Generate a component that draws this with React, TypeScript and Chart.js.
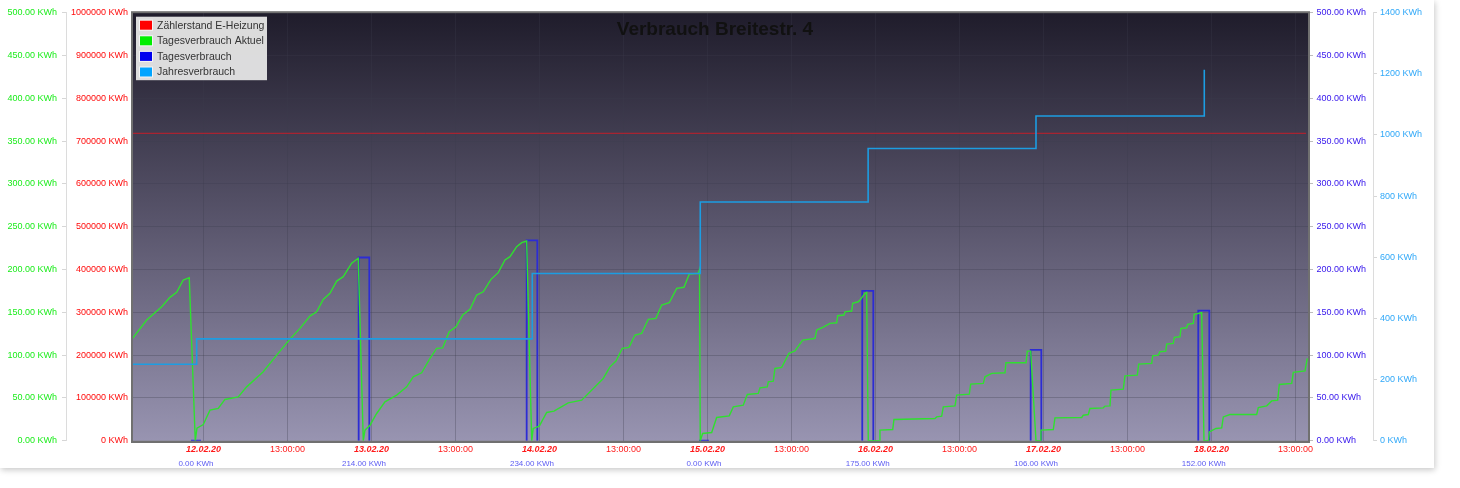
import React, { useEffect, useRef } from 'react';
import { Chart, registerables } from 'chart.js';

Chart.register(...registerables);

// ---------- data ----------
const chartTitle = 'Verbrauch Breitestr. 4';
const seriesNames = ['Zählerstand E-Heizung', 'Tagesverbrauch Aktuel', 'Tagesverbrauch', 'Jahresverbrauch'];
const dayLabels = ['12.02.20', '13.02.20', '14.02.20', '15.02.20', '16.02.20', '17.02.20', '18.02.20'];
const midLabel = '13:00:00';
// x values are hours relative to the 12.02.20 tick
const xMin = -10.21;
const xMax = 157.93;

const dailyKwh = [0, 214, 234, 0, 175, 106, 152];
const barStartHours = [-1.79, 22.17, 46.17, 70.79, 94.11, 118.17, 142.11];
const barEndHours = [-0.36, 23.69, 47.69, 72.21, 95.69, 119.69, 143.69];

const greenHours = [
  -10.21, -8.11, -5.97, -4.79, -3.83, -2.89, -2.03, -1.17, -0.93, -0.03,
  0.93, 2.11, 3.07, 4.97, 6.17, 8.54, 10.46, 12.36, 13.79, 15.21,
  16.17, 17.11, 18.07, 19.03, 19.97, 21.17, 22.11, 22.83, 23.07, 23.79,
  24.74, 25.93, 27.6, 29.03, 29.97, 31.17, 32.36, 33.31, 34.17, 35.11,
  36.07, 37.03, 38.07, 39.03, 39.97, 41.07, 42.11, 43.07, 43.79, 44.74,
  45.46, 46.17, 46.89, 47.11, 47.97, 49.03, 50.07, 52.11, 54.03, 57.11,
  58.07, 58.93, 59.83, 60.79, 61.64, 62.6, 63.54, 64.64, 65.46, 66.54,
  67.6, 68.64, 69.4, 70.69, 70.86, 70.97, 71.31, 72.6, 73.31, 75.11,
  75.69, 77.11, 77.69, 79.26, 79.5, 80.54, 80.69, 81.4, 81.64, 82.6,
  83.64, 84.5, 85.6, 87.36, 87.6, 88.54, 89.5, 90.46, 90.6, 91.5,
  91.64, 92.6, 92.74, 93.54, 93.79, 94.5, 94.74, 94.97, 96.54, 96.64,
  98.46, 98.64, 104.5, 104.74, 105.46, 105.69, 107.36, 107.6, 109.4, 109.6,
  111.4, 111.64, 112.6, 114.5, 114.64, 117.5, 117.69, 118.17, 118.93, 119.6,
  119.64, 121.4, 121.64, 125.46, 125.69, 126.4, 126.64, 128.54, 128.79, 129.5,
  129.64, 131.4, 131.64, 133.4, 133.6, 135.46, 135.6, 136.4, 136.64, 137.46,
  137.6, 138.54, 138.69, 139.5, 139.64, 140.46, 140.6, 141.4, 141.54, 142.6,
  142.93, 143.57, 143.69, 144.64, 145.46, 145.69, 146.64, 150.46, 150.69, 151.89,
  152.6, 153.46, 153.69, 155.46, 155.69, 157.36, 157.69,
];
const greenValues = [
  118.7, 140.9, 156.5, 167.5, 173.3, 187.7, 190.4, 0, 14.6, 18.9,
  35.7, 37.7, 48.2, 51.2, 62.9, 80.5, 100, 118.7, 131.2, 145.6,
  150.6, 165.1, 172.2, 186.5, 191.6, 207.3, 213.1, 0, 12.3, 18.1,
  31.8, 45.4, 53.2, 62.9, 74.6, 79.3, 96.1, 107.8, 108.5, 127.3,
  133.1, 146.8, 153.5, 170.2, 174, 188.5, 196.3, 211.1, 215, 226.7,
  231.3, 233.3, 0, 14.3, 17, 33, 34.5, 44.2, 47.4, 72.7,
  86.3, 93, 107.8, 109, 123.4, 125.4, 141.8, 142.9, 158.5, 161.2,
  178, 179.2, 194.7, 195.6, 200.2, 0, 8.4, 9.6, 27.1, 29,
  39.5, 41.5, 54, 55.2, 61.8, 62.9, 68.8, 69.6, 84.4, 85.6,
  102, 105, 117.5, 119.5, 129.2, 132.7, 137.1, 137.8, 146, 146.8,
  150.6, 151.5, 160.5, 162.3, 164.3, 172.2, 173.3, 0, 0, 12.3,
  13.1, 24.8, 26, 27.8, 28.7, 39.5, 40.7, 53.2, 54.4, 66.1,
  66.9, 74.6, 78.6, 79.3, 91, 91, 104.7, 104.7, 0, 0,
  12.3, 13.1, 26.7, 27.1, 29.8, 30.6, 37.7, 38.4, 40.4, 40.7,
  59.1, 60.2, 75.8, 76.6, 89.5, 90.3, 99.2, 100, 103.9, 104.7,
  112.9, 113.7, 120.7, 121.4, 131.2, 131.9, 135.9, 137.1, 147.6, 149.5,
  0, 0, 10.3, 14.3, 15, 27.8, 30.6, 30.6, 38.8, 40.7,
  46.5, 47.4, 65.7, 66.9, 79.8, 81.6, 96.1,
];

const yearHours = [-10.21, -0.97, 46.97, 70.97, 94.95, 118.93, 142.97];
const yearValues = [250, 333, 547, 781, 956, 1062, 1213];

const meterHours = [-10.21, 157.5];
const meterValues = [718200, 718200];

const kwhTicks = [0, 50, 100, 150, 200, 250, 300, 350, 400, 450, 500];
const meterTicks = [0, 100000, 200000, 300000, 400000, 500000, 600000, 700000, 800000, 900000, 1000000];
const yearTicks = [0, 200, 400, 600, 800, 1000, 1200, 1400];

// ---------- styles ----------
const FONT = '"Liberation Sans", Arial, Helvetica, sans-serif';
const GRID = 'rgba(60,60,75,0.3)';
const COL_GREEN = '#2fe02f';
const COL_BLUE = '#2c2cd4';
const COL_LIGHT = '#1c9de2';
const legendSwatches = ['#ff0000', '#00ee00', '#0000ee', '#00a4ff'];

const xTickHours: number[] = [];
dayLabels.forEach((_, i) => {
  xTickHours.push(i * 24);
  xTickHours.push(i * 24 + 12);
});
const barCenters = barStartHours.map((s, i) => (s + barEndHours[i]) / 2);

const decorPlugin = {
  id: 'decor',
  beforeDraw(chart: any) {
    const { ctx, chartArea: a } = chart;
    const g = ctx.createLinearGradient(0, a.top, 0, a.bottom);
    g.addColorStop(0, '#1f1c2b');
    g.addColorStop(0.5, '#5a566d');
    g.addColorStop(1, '#9894b1');
    ctx.save();
    ctx.fillStyle = g;
    ctx.fillRect(a.left, a.top, a.right - a.left, a.bottom - a.top);
    ctx.restore();
  },
  afterDraw(chart: any) {
    const { ctx, chartArea: a } = chart;
    ctx.save();
    // plot border
    ctx.strokeStyle = '#707070';
    ctx.lineWidth = 2;
    ctx.strokeRect(a.left, a.top - 0.5, a.right - a.left, a.bottom - a.top + 1.8);
    // title
    ctx.fillStyle = '#111111';
    ctx.font = 'bold 19px ' + FONT;
    ctx.textAlign = 'center';
    ctx.textBaseline = 'alphabetic';
    ctx.fillText(chartTitle, a.left + (a.right - a.left) * 0.4953, a.top + 22.5);
    // legend
    const lx = a.left + 4;
    const ly = a.top + 4;
    ctx.fillStyle = 'rgba(226,226,226,0.97)';
    ctx.fillRect(lx, ly, 131, 63.5);
    ctx.font = '10.5px ' + FONT;
    ctx.textAlign = 'left';
    ctx.textBaseline = 'middle';
    seriesNames.forEach((name, i) => {
      const cy = ly + 8.5 + i * 15.6;
      ctx.fillStyle = '#f4f4f4';
      ctx.fillRect(lx + 3, cy - 5.5, 14, 11);
      ctx.fillStyle = legendSwatches[i];
      ctx.fillRect(lx + 4, cy - 4.5, 12, 9);
      ctx.fillStyle = '#333333';
      ctx.fillText(name, lx + 21, cy + 0.5);
    });
    ctx.restore();
  },
};

export default function App() {
  const ref = useRef<HTMLCanvasElement | null>(null);

  useEffect(() => {
    if (!ref.current) return;
    Chart.defaults.font.family = FONT;

    const barData: any[] = [];
    dailyKwh.forEach((v, i) => {
      barData.push({ x: barStartHours[i], y: 0 });
      barData.push({ x: barStartHours[i], y: v });
      barData.push({ x: barEndHours[i], y: v });
      barData.push({ x: barEndHours[i], y: 0 });
      barData.push({ x: barEndHours[i], y: null });
    });

    const chart = new Chart(ref.current, {
      type: 'line',
      data: {
        datasets: [
          {
            label: seriesNames[3],
            data: yearHours.map((x, i) => ({ x, y: yearValues[i] })),
            xAxisID: 'x',
            yAxisID: 'yLight',
            stepped: true,
            borderColor: COL_LIGHT,
            borderWidth: 1.6,
            pointRadius: 0,
            fill: false,
          },
          {
            label: seriesNames[1],
            data: greenHours.map((x, i) => ({ x, y: greenValues[i] })),
            xAxisID: 'x',
            yAxisID: 'yGreen',
            borderColor: COL_GREEN,
            borderWidth: 1.4,
            pointRadius: 0,
            tension: 0,
            fill: false,
          },
          {
            label: seriesNames[2],
            data: barData,
            xAxisID: 'x',
            yAxisID: 'yBlue',
            borderColor: COL_BLUE,
            borderWidth: 1.8,
            pointRadius: 0,
            spanGaps: false,
            fill: false,
          },
          {
            label: seriesNames[0],
            data: meterHours.map((x, i) => ({ x, y: meterValues[i] })),
            xAxisID: 'x',
            yAxisID: 'yRed',
            borderColor: '#c41e2a',
            borderWidth: 1,
            pointRadius: 0,
            fill: false,
          },
        ],
      },
      options: {
        animation: false,
        responsive: false,
        maintainAspectRatio: false,
        devicePixelRatio: 1,
        events: [],
        layout: { padding: { top: 12.7, left: 0, right: 0, bottom: 0 } },
        plugins: {
          legend: { display: false },
          title: { display: false },
          tooltip: { enabled: false },
        },
        scales: {
          x: {
            type: 'linear',
            axis: 'x',
            position: 'bottom',
            weight: 0,
            min: xMin,
            max: xMax,
            afterBuildTicks: (s: any) => {
              s.ticks = xTickHours.map((v) => ({ value: v }));
            },
            afterFit: (s: any) => {
              s.height = 14;
            },
            ticks: {
              autoSkip: false,
              maxRotation: 0,
              minRotation: 0,
              padding: 3,
              color: '#ff1a1a',
              font: (c: any) =>
                c.tick && c.tick.value % 24 === 0
                  ? { size: 9, weight: 'bold', style: 'italic', family: FONT }
                  : { size: 9, family: FONT },
              callback: (v: any) => (Number(v) % 24 === 0 ? dayLabels[Number(v) / 24] : midLabel),
            },
            grid: { color: GRID, drawTicks: false, lineWidth: 1 },
            border: { display: false },
          },
          xKwh: {
            type: 'linear',
            axis: 'x',
            position: 'bottom',
            weight: 1,
            min: xMin,
            max: xMax,
            afterBuildTicks: (s: any) => {
              s.ticks = barCenters.map((v) => ({ value: v }));
            },
            afterFit: (s: any) => {
              s.height = 13.3;
            },
            ticks: {
              autoSkip: false,
              maxRotation: 0,
              minRotation: 0,
              padding: 4,
              color: '#5c5cf2',
              font: { size: 8, family: FONT },
              callback: (_v: any, i: number) => dailyKwh[i].toFixed(2) + ' KWh',
            },
            grid: { display: false, drawTicks: false },
            border: { display: false },
          },
          yGreen: {
            type: 'linear',
            axis: 'y',
            position: 'left',
            weight: 1,
            min: 0,
            max: 500,
            afterBuildTicks: (s: any) => {
              s.ticks = kwhTicks.map((v) => ({ value: v }));
            },
            afterFit: (s: any) => {
              s.width = 66;
            },
            ticks: {
              padding: 5,
              color: '#1aec1a',
              font: { size: 9, family: FONT },
              callback: (v: any) => Number(v).toFixed(2) + ' KWh',
            },
            grid: { color: GRID, tickColor: '#d6d6d6', tickLength: 4, drawTicks: true },
            border: { display: true, color: '#dcdcdc' },
          },
          yRed: {
            type: 'linear',
            axis: 'y',
            position: 'left',
            weight: 0,
            min: 0,
            max: 1000000,
            afterBuildTicks: (s: any) => {
              s.ticks = meterTicks.map((v) => ({ value: v }));
            },
            afterFit: (s: any) => {
              s.width = 66;
            },
            ticks: {
              padding: 4,
              color: '#ff0a0a',
              font: { size: 9, family: FONT },
              callback: (v: any) => String(v) + ' KWh',
            },
            grid: { display: false, drawTicks: false },
            border: { display: false },
          },
          yBlue: {
            type: 'linear',
            axis: 'y',
            position: 'right',
            weight: 0,
            min: 0,
            max: 500,
            afterBuildTicks: (s: any) => {
              s.ticks = kwhTicks.map((v) => ({ value: v }));
            },
            afterFit: (s: any) => {
              s.width = 64;
            },
            ticks: {
              padding: 3.5,
              color: '#3414ec',
              font: { size: 9, family: FONT },
              callback: (v: any) => Number(v).toFixed(2) + ' KWh',
            },
            grid: { drawOnChartArea: false, tickColor: '#bdbdbd', tickLength: 4 },
            border: { display: false },
          },
          yLight: {
            type: 'linear',
            axis: 'y',
            position: 'right',
            weight: 1,
            min: 0,
            max: 1400,
            afterBuildTicks: (s: any) => {
              s.ticks = yearTicks.map((v) => ({ value: v }));
            },
            afterFit: (s: any) => {
              s.width = 61;
            },
            ticks: {
              padding: 3,
              color: '#30a8f8',
              font: { size: 9, family: FONT },
              callback: (v: any) => String(v) + ' KWh',
            },
            grid: { drawOnChartArea: false, tickColor: '#d6d6d6', tickLength: 4 },
            border: { display: true, color: '#dcdcdc' },
          },
        },
      } as any,
      plugins: [decorPlugin],
    });

    return () => chart.destroy();
  }, []);

  return (
    <div
      style={{
        position: 'absolute',
        left: 0,
        top: 0,
        width: 1460,
        height: 488,
        background: '#ffffff',
        overflow: 'hidden',
      }}
    >
      <div
        style={{
          position: 'absolute',
          left: 0,
          top: 0,
          width: 1434,
          height: 468,
          background: '#ffffff',
          boxShadow: '1px 2px 6px rgba(0,0,0,0.22)',
        }}
      >
        <canvas ref={ref} width={1434} height={468} style={{ display: 'block' }} />
      </div>
    </div>
  );
}
